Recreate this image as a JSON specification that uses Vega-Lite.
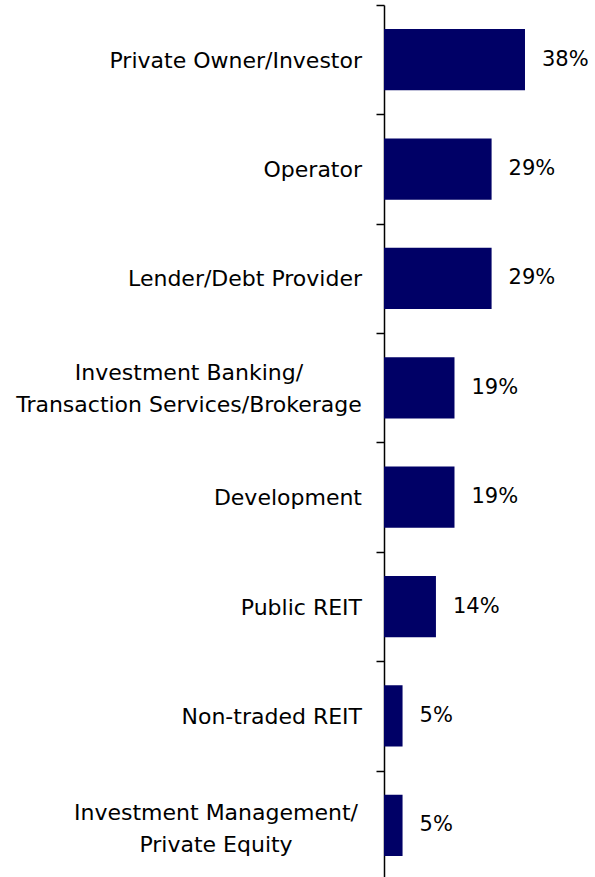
{
  "$schema": "https://vega.github.io/schema/vega-lite/v6.json",
  "width": 210,
  "height": 872,
  "autosize": "none",
  "padding": {"left": 384, "top": 5, "right": 1, "bottom": 0},
  "background": "white",
  "config": {"view": {"stroke": null}},
  "data": {"values": [
    {"category": "Private Owner/Investor", "value": 0.38},
    {"category": "Operator", "value": 0.29},
    {"category": "Lender/Debt Provider", "value": 0.29},
    {"category": "Investment Banking/|Transaction Services/Brokerage", "value": 0.19},
    {"category": "Development", "value": 0.19},
    {"category": "Public REIT", "value": 0.14},
    {"category": "Non-traded REIT", "value": 0.05},
    {"category": "Investment Management/|Private Equity", "value": 0.05}
  ]},
  "encoding": {
    "y": {"field": "category", "type": "nominal", "sort": null,
      "scale": {"paddingInner": 0.44, "paddingOuter": 0.22, "range": [0, 875]},
      "axis": {"title": null, "labels": false, "domainColor": "black", "domainWidth": 1.5, "tickColor": "black", "tickSize": 8, "tickWidth": 1.5, "tickOffset": -54.7}},
    "x": {"field": "value", "type": "quantitative", "scale": {"domain": [0, 0.566]}, "axis": null}
  },
  "layer": [
    {"mark": {"type": "bar", "color": "#000066"}},
    {"mark": {"type": "text", "align": "left", "baseline": "middle", "dx": 17, "font": "DejaVu Sans", "fontSize": 21, "color": "black"},
     "encoding": {"text": {"field": "value", "type": "quantitative", "format": ".0%"}}},
    {"transform": [{"filter": "indexof(datum.category, '|') < 0"}],
     "mark": {"type": "text", "align": "right", "baseline": "middle", "dx": -22, "dy": 1, "font": "DejaVu Sans", "fontSize": 22, "color": "black"},
     "encoding": {"x": {"datum": 0}, "text": {"field": "category"}}},
    {"transform": [{"filter": "datum.category == 'Investment Banking/|Transaction Services/Brokerage'"}],
     "mark": {"type": "text", "align": "center", "baseline": "middle", "dx": -195, "dy": -15, "lineBreak": "|", "lineHeight": 32, "font": "DejaVu Sans", "fontSize": 22, "color": "black"},
     "encoding": {"x": {"datum": 0}, "text": {"field": "category"}}},
    {"transform": [{"filter": "datum.category == 'Investment Management/|Private Equity'"}],
     "mark": {"type": "text", "align": "center", "baseline": "middle", "dx": -168, "dy": -12.5, "lineBreak": "|", "lineHeight": 32, "font": "DejaVu Sans", "fontSize": 22, "color": "black"},
     "encoding": {"x": {"datum": 0}, "text": {"field": "category"}}}
  ]
}
